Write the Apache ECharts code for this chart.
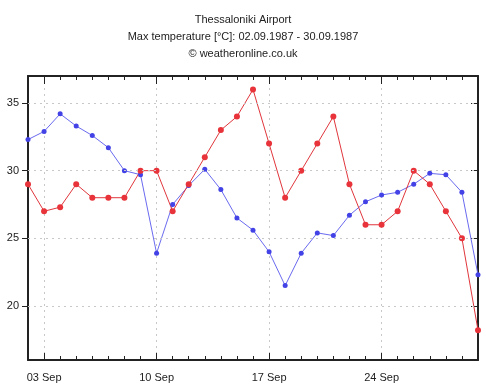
<!DOCTYPE html>
<html><head><meta charset="utf-8">
<script src="https://cdn.jsdelivr.net/npm/echarts@6/dist/echarts.min.js"></script>
<style>html,body{margin:0;padding:0;background:#fff}#c{width:486px;height:389px}</style>
</head><body><div id="c"></div>
<script>
const days = ['02 Sep','03 Sep','04 Sep','05 Sep','06 Sep','07 Sep','08 Sep','09 Sep','10 Sep','11 Sep','12 Sep','13 Sep','14 Sep','15 Sep','16 Sep','17 Sep','18 Sep','19 Sep','20 Sep','21 Sep','22 Sep','23 Sep','24 Sep','25 Sep','26 Sep','27 Sep','28 Sep','29 Sep','30 Sep'];
const redValues = [29,27,27.3,29,28,28,28,30,30,27,29,31,33,34,36,32,28,30,32,34,29,26,26,27,30,29,27,25,18.2];
const blueValues = [32.3,32.9,34.2,33.3,32.6,31.7,30,29.7,23.9,27.5,28.9,30.1,28.6,26.5,25.6,24,21.5,23.9,25.4,25.2,26.7,27.7,28.2,28.4,29,29.8,29.7,28.4,22.3];
const yTicks = [20,25,30,35];
const titleLines = ['Thessaloniki Airport','Max temperature [°C]: 02.09.1987 - 30.09.1987','© weatheronline.co.uk'];

const FONT = 'Liberation Sans, Arial, sans-serif';
const major = (i) => i % 7 === 1;
const frame = {show:true, lineStyle:{color:'#222', width:2}};
const grid = {left:28, right:8, top:76, bottom:29};
function xAx(pos, len, ivl, withLine, withLabel, withSplit){
  return {type:'category', data:days, boundaryGap:false, position:pos,
    axisLine: withLine ? frame : {show:false},
    axisTick:{show:true, inside:true, length:len, interval:ivl, lineStyle:{color:'#222', width:1}},
    axisLabel:{show:withLabel, interval:major, color:'#222', fontFamily:FONT, fontSize:11, margin:12},
    splitLine:{show:withSplit, interval:major, lineStyle:{color:'#c8c8c8', type:[2,4], width:1}}};
}
const chart = echarts.init(document.getElementById('c'), null, {renderer:'canvas'});
chart.setOption({
  animation:false,
  backgroundColor:'#fff',
  title:{text:titleLines.join('\n'), left:'center', top:6,
    textStyle:{fontFamily:FONT, fontSize:11, fontWeight:'normal', color:'#222', lineHeight:17}},
  grid: grid,
  xAxis:[
    xAx('bottom', 4, 0, true, true, true),
    xAx('bottom', 7, major, false, false, false),
    xAx('top', 4, 0, true, false, false),
    xAx('top', 8, major, false, false, false)
  ],
  yAxis:[
    {type:'value', min:16, max:37, position:'left',
     axisLine:frame,
     axisTick:{show:true, inside:false, length:6, customValues:yTicks, lineStyle:{color:'#222'}},
     axisLabel:{customValues:yTicks, color:'#222', fontFamily:FONT, fontSize:11, margin:9},
     splitLine:{show:false}},
    {type:'value', min:16, max:37, position:'right',
     axisLine:frame,
     axisTick:{show:true, inside:true, length:7, customValues:yTicks, lineStyle:{color:'#222'}},
     axisLabel:{show:false},
     splitLine:{show:false}}
  ],
  series:[
    {type:'line', name:'blue', data:blueValues, xAxisIndex:0, yAxisIndex:0,
     symbol:'circle', symbolSize:5, color:'#4b4be8',
     lineStyle:{width:1, color:'#6a6af0'}, itemStyle:{color:'#4242e6'},
     markLine:{silent:true, symbol:'none', label:{show:false},
       lineStyle:{color:'#c8c8c8', type:[2,4], width:1},
       data: yTicks.map(v => ({yAxis:v}))}},
    {type:'line', name:'red', data:redValues, xAxisIndex:0, yAxisIndex:0,
     symbol:'circle', symbolSize:6, color:'#e8333a',
     lineStyle:{width:1, color:'#e0363c'}, itemStyle:{color:'#e8333a'}}
  ]
});
</script></body></html>
